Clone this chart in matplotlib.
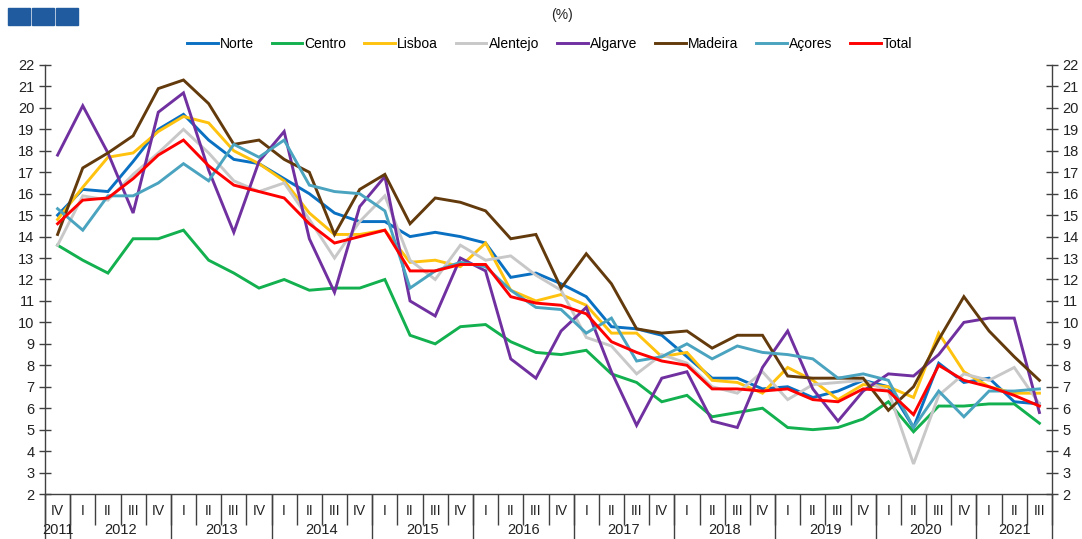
import matplotlib
matplotlib.use("Agg")
import matplotlib.pyplot as plt
from matplotlib.patches import Rectangle
import numpy as np

plt.rcParams['font.family'] = ['Liberation Sans', 'DejaVu Sans']

quarters = ["IV"] + ["I", "II", "III", "IV"] * 9 + ["I", "II", "III"]
years = ["2011", "2012", "2013", "2014", "2015", "2016", "2017", "2018", "2019", "2020", "2021"]

norte = [15.0, 16.2, 16.1, 17.5, 19.0, 19.7, 18.5, 17.6, 17.4, 16.7, 16.0, 15.1, 14.7,
         14.7, 14.0, 14.2, 14.0, 13.7, 12.1, 12.3, 11.8, 11.2, 9.8, 9.7, 9.4,
         8.4, 7.4, 7.4, 6.9, 7.0, 6.5, 6.8, 7.3, 7.0, 5.1, 8.1, 7.2, 7.4, 6.3, 6.2]
centro = [13.6, 12.9, 12.3, 13.9, 13.9, 14.3, 12.9, 12.3, 11.6, 12.0, 11.5, 11.6, 11.6,
          12.0, 9.4, 9.0, 9.8, 9.9, 9.1, 8.6, 8.5, 8.7, 7.6, 7.2, 6.3,
          6.6, 5.6, 5.8, 6.0, 5.1, 5.0, 5.1, 5.5, 6.3, 4.9, 6.1, 6.1, 6.2, 6.2, 5.3]
lisboa = [14.8, 16.3, 17.7, 17.9, 18.9, 19.6, 19.3, 18.0, 17.4, 16.6, 15.1, 14.1, 14.1,
          14.3, 12.8, 12.9, 12.6, 13.7, 11.5, 11.0, 11.3, 10.8, 9.5, 9.5, 8.4,
          8.6, 7.3, 7.2, 6.7, 7.9, 7.3, 6.4, 7.1, 7.0, 6.5, 9.5, 7.7, 7.0, 6.7, 6.7]
alentejo = [13.6, 15.9, 15.7, 16.9, 17.9, 19.0, 17.9, 16.6, 16.1, 16.5, 14.8, 13.0, 14.7,
            15.9, 12.9, 12.0, 13.6, 12.9, 13.1, 12.2, 11.5, 9.3, 8.9, 7.6, 8.5,
            8.1, 7.0, 6.7, 7.7, 6.4, 7.1, 7.2, 7.3, 6.8, 3.4, 6.6, 7.6, 7.3, 7.9, 6.2]
algarve = [17.8, 20.1, 17.9, 15.1, 19.8, 20.7, 17.1, 14.2, 17.5, 18.9, 13.9, 11.4, 15.4,
           16.8, 11.0, 10.3, 13.0, 12.4, 8.3, 7.4, 9.6, 10.7, 7.7, 5.2, 7.4,
           7.7, 5.4, 5.1, 7.9, 9.6, 6.9, 5.4, 6.8, 7.6, 7.5, 8.5, 10.0, 10.2, 10.2, 5.8]
madeira = [14.1, 17.2, 17.9, 18.7, 20.9, 21.3, 20.2, 18.3, 18.5, 17.6, 17.0, 14.1, 16.2,
           16.9, 14.6, 15.8, 15.6, 15.2, 13.9, 14.1, 11.6, 13.2, 11.8, 9.7, 9.5,
           9.6, 8.8, 9.4, 9.4, 7.5, 7.4, 7.4, 7.4, 5.9, 7.0, 9.2, 11.2, 9.6, 8.4, 7.3]
acores = [15.3, 14.3, 15.9, 15.9, 16.5, 17.4, 16.6, 18.3, 17.7, 18.5, 16.4, 16.1, 16.0,
          15.2, 11.6, 12.4, 12.8, 12.6, 11.5, 10.7, 10.6, 9.5, 10.2, 8.2, 8.4,
          9.0, 8.3, 8.9, 8.6, 8.5, 8.3, 7.4, 7.6, 7.3, 5.1, 6.8, 5.6, 6.8, 6.8, 6.9]
total = [14.6, 15.7, 15.8, 16.7, 17.8, 18.5, 17.3, 16.4, 16.1, 15.8, 14.6, 13.7, 14.0,
         14.3, 12.4, 12.4, 12.7, 12.7, 11.2, 10.9, 10.8, 10.4, 9.1, 8.6, 8.2,
         8.0, 6.9, 6.9, 6.8, 6.9, 6.4, 6.3, 6.9, 6.8, 5.7, 8.0, 7.3, 7.0, 6.6, 6.1]

series = [
    ("Norte", norte, "#0A70C2"),
    ("Centro", centro, "#12B04E"),
    ("Lisboa", lisboa, "#FFC20E"),
    ("Alentejo", alentejo, "#C8C8C8"),
    ("Algarve", algarve, "#7030A0"),
    ("Madeira", madeira, "#633A0C"),
    ("Açores", acores, "#4AA3BF"),
    ("Total", total, "#FF0000"),
]

fig = plt.figure(figsize=(10.82, 5.39), dpi=100)
ax = fig.add_axes([45 / 1082, 45 / 539, 1007 / 1082, 429 / 539])

x = np.arange(len(quarters))
for name, vals, col in series:
    ax.plot(x, vals, color=col, lw=2.1, label=name, solid_joinstyle='miter')

ax.set_xlim(-0.5, len(quarters) - 0.5)
ax.set_ylim(2, 22)
ax.set_yticks(np.arange(2, 23, 1))
ax.tick_params(axis='y', which='major', left=True, right=True, labelleft=True, labelright=True,
               direction='inout', length=9, width=1, color='#404040', labelsize=10.5,
               labelcolor='#222222', pad=3)

ax.spines['top'].set_visible(False)
for s in ['left', 'right', 'bottom']:
    ax.spines[s].set_color('#404040')
    ax.spines[s].set_linewidth(1.0)

# quarter labels & short separators
ax.set_xticks(x)
ax.set_xticklabels(quarters, fontsize=10, color='#222222')
ax.tick_params(axis='x', which='major', length=0, pad=7)
ax.set_xticks(np.arange(-0.5, len(quarters), 1.0), minor=True)
ax.tick_params(axis='x', which='minor', direction='out', length=22, width=1, color='#404040')

# year labels & long separators
year_starts = [0] + [1 + 4 * k for k in range(len(years) - 1)]
year_ends = year_starts[1:] + [len(quarters)]
bounds = [s - 0.5 for s in year_starts] + [len(quarters) - 0.5]
centers = [(s + e - 1) / 2 for s, e in zip(year_starts, year_ends)]
sec = ax.secondary_xaxis('bottom')
sec.spines['bottom'].set_visible(False)
sec.set_xticks(bounds)
sec.set_xticklabels([])
sec.tick_params(axis='x', which='major', direction='out', length=46, width=1, color='#404040')
sec.set_xticks(centers, minor=True)
sec.set_xticklabels(years, minor=True, fontsize=10.5, color='#222222')
sec.tick_params(axis='x', which='minor', length=0, pad=21)

fig.legend(loc='center', bbox_to_anchor=(0.508, 0.918), ncol=8, frameon=False,
           fontsize=10, handlelength=2.2, handletextpad=0.15, columnspacing=1.3)

fig.text(562 / 1082, 1 - 15 / 539, "(%)", ha='center', va='center', fontsize=10, color='#222222')

for i in range(3):
    fig.patches.append(Rectangle(((8 + i * 24) / 1082, 1 - 25 / 539), 22 / 1082, 17 / 539,
                                 transform=fig.transFigure, color='#1F5B9E'))

fig.savefig("out.png", dpi=100)
